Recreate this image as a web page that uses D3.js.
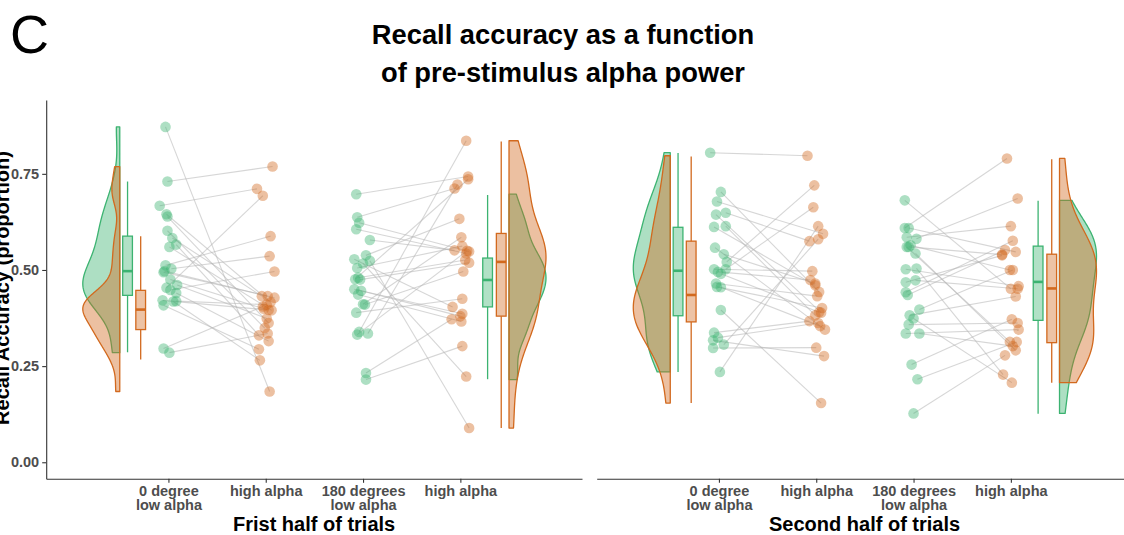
<!DOCTYPE html>
<html><head><meta charset="utf-8">
<script src="https://cdn.jsdelivr.net/npm/d3@7"></script>
<style>
body{margin:0;background:#fff}
svg{display:block}
text{font-family:"Liberation Sans",Arial,Helvetica,sans-serif}
</style>
</head><body>
<svg id="chart" width="1124" height="535"></svg>
<script>
// ---------------- DATA ----------------
const tickLabels = [["0 degree","low alpha"],["high alpha"],["180 degrees","low alpha"],["high alpha"]];
const halves = ["Frist half of trials","Second half of trials"];
const yTicks = [0, 0.25, 0.5, 0.75];
const conditionPositions = [1, 2, 3, 4];

// First half of trials – 0 degree pair (low alpha -> high alpha, paired by subject)
const first0Low  = [0.872,0.730,0.667,0.645,0.639,0.602,0.583,0.566,0.560,0.512,0.497,0.503,0.494,0.475,0.454,0.461,0.448,0.440,0.421,0.408,0.418,0.419,0.296,0.285];
const first0High = [0.184,0.769,0.711,0.416,0.362,0.349,0.432,0.330,0.395,0.588,0.432,0.536,0.428,0.399,0.693,0.374,0.496,0.315,0.396,0.294,0.265,0.410,0.405,0.335];
const first0LowJit  = [-0.03,-0.01,-0.09,-0.02,-0.01,-0.01,0.04,0.08,0.01,-0.03,-0.04,0.03,-0.05,0.02,-0.02,0.09,0.02,0.08,-0.06,-0.05,0.05,0.08,-0.05,0.01];
const first0HighJit = [0.04,0.07,-0.09,0.05,0.03,-0.01,-0.04,-0.07,0.06,0.05,0.02,0.04,0.09,-0.02,-0.03,0.01,0.09,0.03,0.03,-0.07,-0.06,0.01,-0.03,0.02];

// First half – 180 degrees pair
const first180Low  = [0.697,0.637,0.623,0.606,0.578,0.538,0.528,0.517,0.524,0.476,0.475,0.450,0.446,0.436,0.411,0.389,0.332,0.339,0.335,0.232,0.215,0.505,0.480,0.410];
const first180High = [0.743,0.712,0.548,0.543,0.551,0.633,0.404,0.223,0.089,0.736,0.519,0.386,0.380,0.366,0.585,0.425,0.550,0.836,0.722,0.372,0.302,0.562,0.526,0.496];
const first180LowJit  = [-0.07,-0.06,-0.04,-0.07,0.07,0.03,-0.09,0.00,0.07,-0.08,-0.03,-0.09,-0.02,-0.05,0.00,-0.07,-0.06,-0.04,0.05,0.03,0.03,-0.06,-0.05,0.02];
const first180HighJit = [0.08,-0.06,0.09,0.06,-0.06,-0.01,-0.08,0.06,0.09,0.08,0.09,0.02,0.00,0.01,0.01,0.02,0.07,0.06,-0.03,-0.09,0.02,0.02,0.05,0.03];

// Second half – 0 degree pair
const second0Low  = [0.805,0.703,0.678,0.644,0.649,0.612,0.614,0.558,0.541,0.521,0.502,0.495,0.502,0.465,0.456,0.455,0.396,0.337,0.324,0.317,0.306,0.297,0.235,0.490];
const second0High = [0.797,0.443,0.594,0.389,0.575,0.460,0.382,0.345,0.465,0.720,0.497,0.474,0.663,0.432,0.401,0.354,0.154,0.367,0.362,0.276,0.580,0.298,0.614,0.390];
const second0LowJit  = [-0.09,0.02,-0.02,-0.03,0.07,-0.05,0.07,-0.04,0.05,0.08,-0.05,-0.01,0.07,-0.03,-0.02,0.02,0.02,-0.05,-0.01,-0.06,0.05,-0.06,0.01,0.02];
const second0HighJit = [-0.09,0.03,0.07,0.05,-0.07,-0.01,-0.01,0.09,-0.01,-0.02,-0.04,-0.06,-0.03,0.01,0.06,0.04,0.05,-0.07,0.02,0.08,0.02,0.00,0.02,0.03];

// Second half – 180 degrees pair
const second180Low  = [0.681,0.609,0.609,0.585,0.581,0.560,0.564,0.543,0.502,0.504,0.468,0.473,0.442,0.435,0.397,0.382,0.374,0.358,0.335,0.335,0.254,0.216,0.127,0.560];
const second180High = [0.451,0.790,0.547,0.614,0.686,0.313,0.500,0.291,0.458,0.228,0.538,0.451,0.576,0.552,0.500,0.431,0.207,0.362,0.345,0.302,0.372,0.313,0.278,0.540];
const second180LowJit  = [-0.09,-0.09,-0.05,-0.07,0.03,-0.07,-0.03,0.02,-0.08,0.03,-0.08,0.02,-0.08,-0.06,0.06,-0.04,0.00,-0.05,-0.08,0.06,-0.02,0.04,0.00,-0.05];
const second180HighJit = [0.00,-0.04,0.05,0.00,0.07,-0.01,-0.01,0.05,0.08,-0.08,-0.09,0.07,0.02,-0.06,0.02,0.05,0.01,0.07,0.08,0.02,0.01,0.06,-0.06,-0.09];

// Boxplot stats [lower whisker, Q1, median, Q3, upper whisker]
const first0LowBox   = [0.286,0.434,0.497,0.588,0.730];
const first0HighBox  = [0.267,0.345,0.397,0.447,0.588];
const first180LowBox = [0.216,0.404,0.474,0.531,0.695];
const first180HighBox= [0.089,0.380,0.521,0.595,0.834];
const second0LowBox   = [0.235,0.381,0.498,0.611,0.804];
const second0HighBox  = [0.154,0.365,0.435,0.575,0.795];
const second180LowBox = [0.126,0.369,0.469,0.562,0.680];
const second180HighBox= [0.207,0.311,0.452,0.541,0.788];

// ---------------- STYLE / LAYOUT ----------------
const GREEN = "#3CB371", ORANGE = "#D2691E";
const svg = d3.select("#chart");
const panelTop = 100, panelBottom = 478.8;
const panelWidth = 535.8;
const panelLefts = [46.2, 596.7];
const xDomain = [-0.256, 5.25];
const y = d3.scaleLinear().domain([-0.043, 0.942]).range([panelBottom, panelTop]);

const panels = [
  {title: halves[0], pairs: [
    {low: first0Low, high: first0High, lj: first0LowJit, hj: first0HighJit, lbox: first0LowBox, hbox: first0HighBox, xl: conditionPositions[0], xh: conditionPositions[1], side: -1},
    {low: first180Low, high: first180High, lj: first180LowJit, hj: first180HighJit, lbox: first180LowBox, hbox: first180HighBox, xl: conditionPositions[2], xh: conditionPositions[3], side: 1}
  ]},
  {title: halves[1], pairs: [
    {low: second0Low, high: second0High, lj: second0LowJit, hj: second0HighJit, lbox: second0LowBox, hbox: second0HighBox, xl: conditionPositions[0], xh: conditionPositions[1], side: -1},
    {low: second180Low, high: second180High, lj: second180LowJit, hj: second180HighJit, lbox: second180LowBox, hbox: second180HighBox, xl: conditionPositions[2], xh: conditionPositions[3], side: 1}
  ]}
];

function kde(vals){
  const s = vals.slice().sort(d3.ascending), n = s.length;
  const sd = d3.deviation(s);
  const iqr = d3.quantile(s, 0.75) - d3.quantile(s, 0.25);
  const bw = 0.9 * Math.min(sd, iqr / 1.34) * Math.pow(n, -0.2);
  const lo = s[0], hi = s[n - 1];
  return d3.range(0, 201).map(i => {
    const t = lo + (hi - lo) * i / 200;
    return [t, d3.mean(s, v => Math.exp(-0.5 * ((t - v) / bw) ** 2)) / (bw * Math.sqrt(2 * Math.PI))];
  });
}

const VIOLIN_W = 0.38, BOX_W = 0.1;

panels.forEach((p, pi) => {
  const x = d3.scaleLinear().domain(xDomain).range([panelLefts[pi], panelLefts[pi] + panelWidth]);
  const g = svg.append("g");

  p.pairs.forEach(pair => {
    const side = pair.side;
    const anchor = side < 0 ? pair.xl : pair.xh;
    const base = anchor + side * 0.5;
    [[pair.low, GREEN], [pair.high, ORANGE]].forEach(([vals, col]) => {
      const dens = kde(vals);
      const maxD = d3.max(dens, d => d[1]);
      const area = d3.area()
        .x0(() => x(base))
        .x1(d => x(base + side * VIOLIN_W * d[1] / maxD))
        .y(d => y(d[0]));
      g.append("path").attr("d", area(dens) + "Z")
        .attr("fill", col).attr("fill-opacity", 0.42)
        .attr("stroke", col).attr("stroke-width", 1.3).attr("stroke-linejoin", "round");
    });
    const boxPos = side < 0 ? [anchor - 0.42, anchor - 0.285] : [anchor + 0.28, anchor + 0.42];
    [[pair.lbox, GREEN, boxPos[0]], [pair.hbox, ORANGE, boxPos[1]]].forEach(([b, col, cx]) => {
      const bg = g.append("g");
      bg.append("line").attr("x1", x(cx)).attr("x2", x(cx)).attr("y1", y(b[0])).attr("y2", y(b[1]))
        .attr("stroke", col).attr("stroke-width", 1.3);
      bg.append("line").attr("x1", x(cx)).attr("x2", x(cx)).attr("y1", y(b[3])).attr("y2", y(b[4]))
        .attr("stroke", col).attr("stroke-width", 1.3);
      bg.append("rect").attr("x", x(cx - BOX_W / 2)).attr("width", x(cx + BOX_W / 2) - x(cx - BOX_W / 2))
        .attr("y", y(b[3])).attr("height", y(b[1]) - y(b[3]))
        .attr("fill", col).attr("fill-opacity", 0.4).attr("stroke", col).attr("stroke-width", 1.3);
      bg.append("line").attr("x1", x(cx - BOX_W / 2)).attr("x2", x(cx + BOX_W / 2)).attr("y1", y(b[2])).attr("y2", y(b[2]))
        .attr("stroke", col).attr("stroke-width", 2.6);
    });
    pair.low.forEach((v, i) => {
      g.append("line")
        .attr("x1", x(pair.xl + pair.lj[i])).attr("y1", y(v))
        .attr("x2", x(pair.xh + pair.hj[i])).attr("y2", y(pair.high[i]))
        .attr("stroke", "#b4b4b4").attr("stroke-opacity", 0.55).attr("stroke-width", 1.1);
    });
    pair.low.forEach((v, i) => {
      g.append("circle").attr("cx", x(pair.xl + pair.lj[i])).attr("cy", y(v)).attr("r", 5.3)
        .attr("fill", GREEN).attr("fill-opacity", 0.42);
    });
    pair.high.forEach((v, i) => {
      g.append("circle").attr("cx", x(pair.xh + pair.hj[i])).attr("cy", y(v)).attr("r", 5.3)
        .attr("fill", ORANGE).attr("fill-opacity", 0.42);
    });
  });

  const xa = svg.append("g").attr("transform", `translate(0,${panelBottom})`)
    .call(d3.axisBottom(x).tickValues(conditionPositions).tickSize(4).tickSizeOuter(0).tickFormat(""));
  xa.select(".domain").attr("stroke", "#333").attr("stroke-width", 1.1);
  xa.selectAll(".tick line").attr("stroke", "#333").attr("stroke-width", 1.1);
  xa.selectAll(".tick").each(function(d, i) {
    const t = d3.select(this).select("text").text(null).attr("y", 0).attr("dy", null)
      .attr("font-size", 14.5).attr("font-weight", "bold").attr("fill", "#4d4d4d").attr("text-anchor", "middle");
    tickLabels[i].forEach((s, k) => t.append("tspan").attr("x", 0).attr("y", 17 + k * 14.6).text(s));
  });

  svg.append("text").attr("x", panelLefts[pi] + panelWidth / 2).attr("y", 530.5)
    .attr("text-anchor", "middle").attr("font-size", 20).attr("font-weight", "bold").attr("fill", "#000")
    .text(p.title);

  if (pi === 0) {
    const ya = svg.append("g").attr("transform", `translate(${panelLefts[0]},0)`)
      .call(d3.axisLeft(y).tickValues(yTicks).tickSize(4).tickSizeOuter(0).tickFormat(d3.format(".2f")));
    ya.select(".domain").attr("stroke", "#333").attr("stroke-width", 1.1);
    ya.selectAll(".tick line").attr("stroke", "#333").attr("stroke-width", 1.1);
    ya.selectAll(".tick text").attr("font-size", 14.5).attr("font-weight", "bold").attr("fill", "#4d4d4d")
      .attr("font-family", '"Liberation Sans",Arial,sans-serif').attr("x", -7);
  }
});

// y-axis title (partly cut at the left edge, as in the reference)
svg.append("text").attr("transform", "translate(9,288) rotate(-90)")
  .attr("text-anchor", "middle").attr("font-size", 20).attr("font-weight", "bold").attr("fill", "#000")
  .text("Recall Accuracy (proportion)");

const title = svg.append("text").attr("text-anchor", "middle").attr("font-size", 27.3).attr("font-weight", "bold").attr("fill", "#000");
title.append("tspan").attr("x", 563).attr("y", 43.5).text("Recall accuracy as a function");
title.append("tspan").attr("x", 563).attr("y", 81.5).text("of pre-stimulus alpha power");

svg.append("text").attr("x", 10).attr("y", 53).attr("font-size", 54).attr("fill", "#000").text("C");
</script>
</body></html>
